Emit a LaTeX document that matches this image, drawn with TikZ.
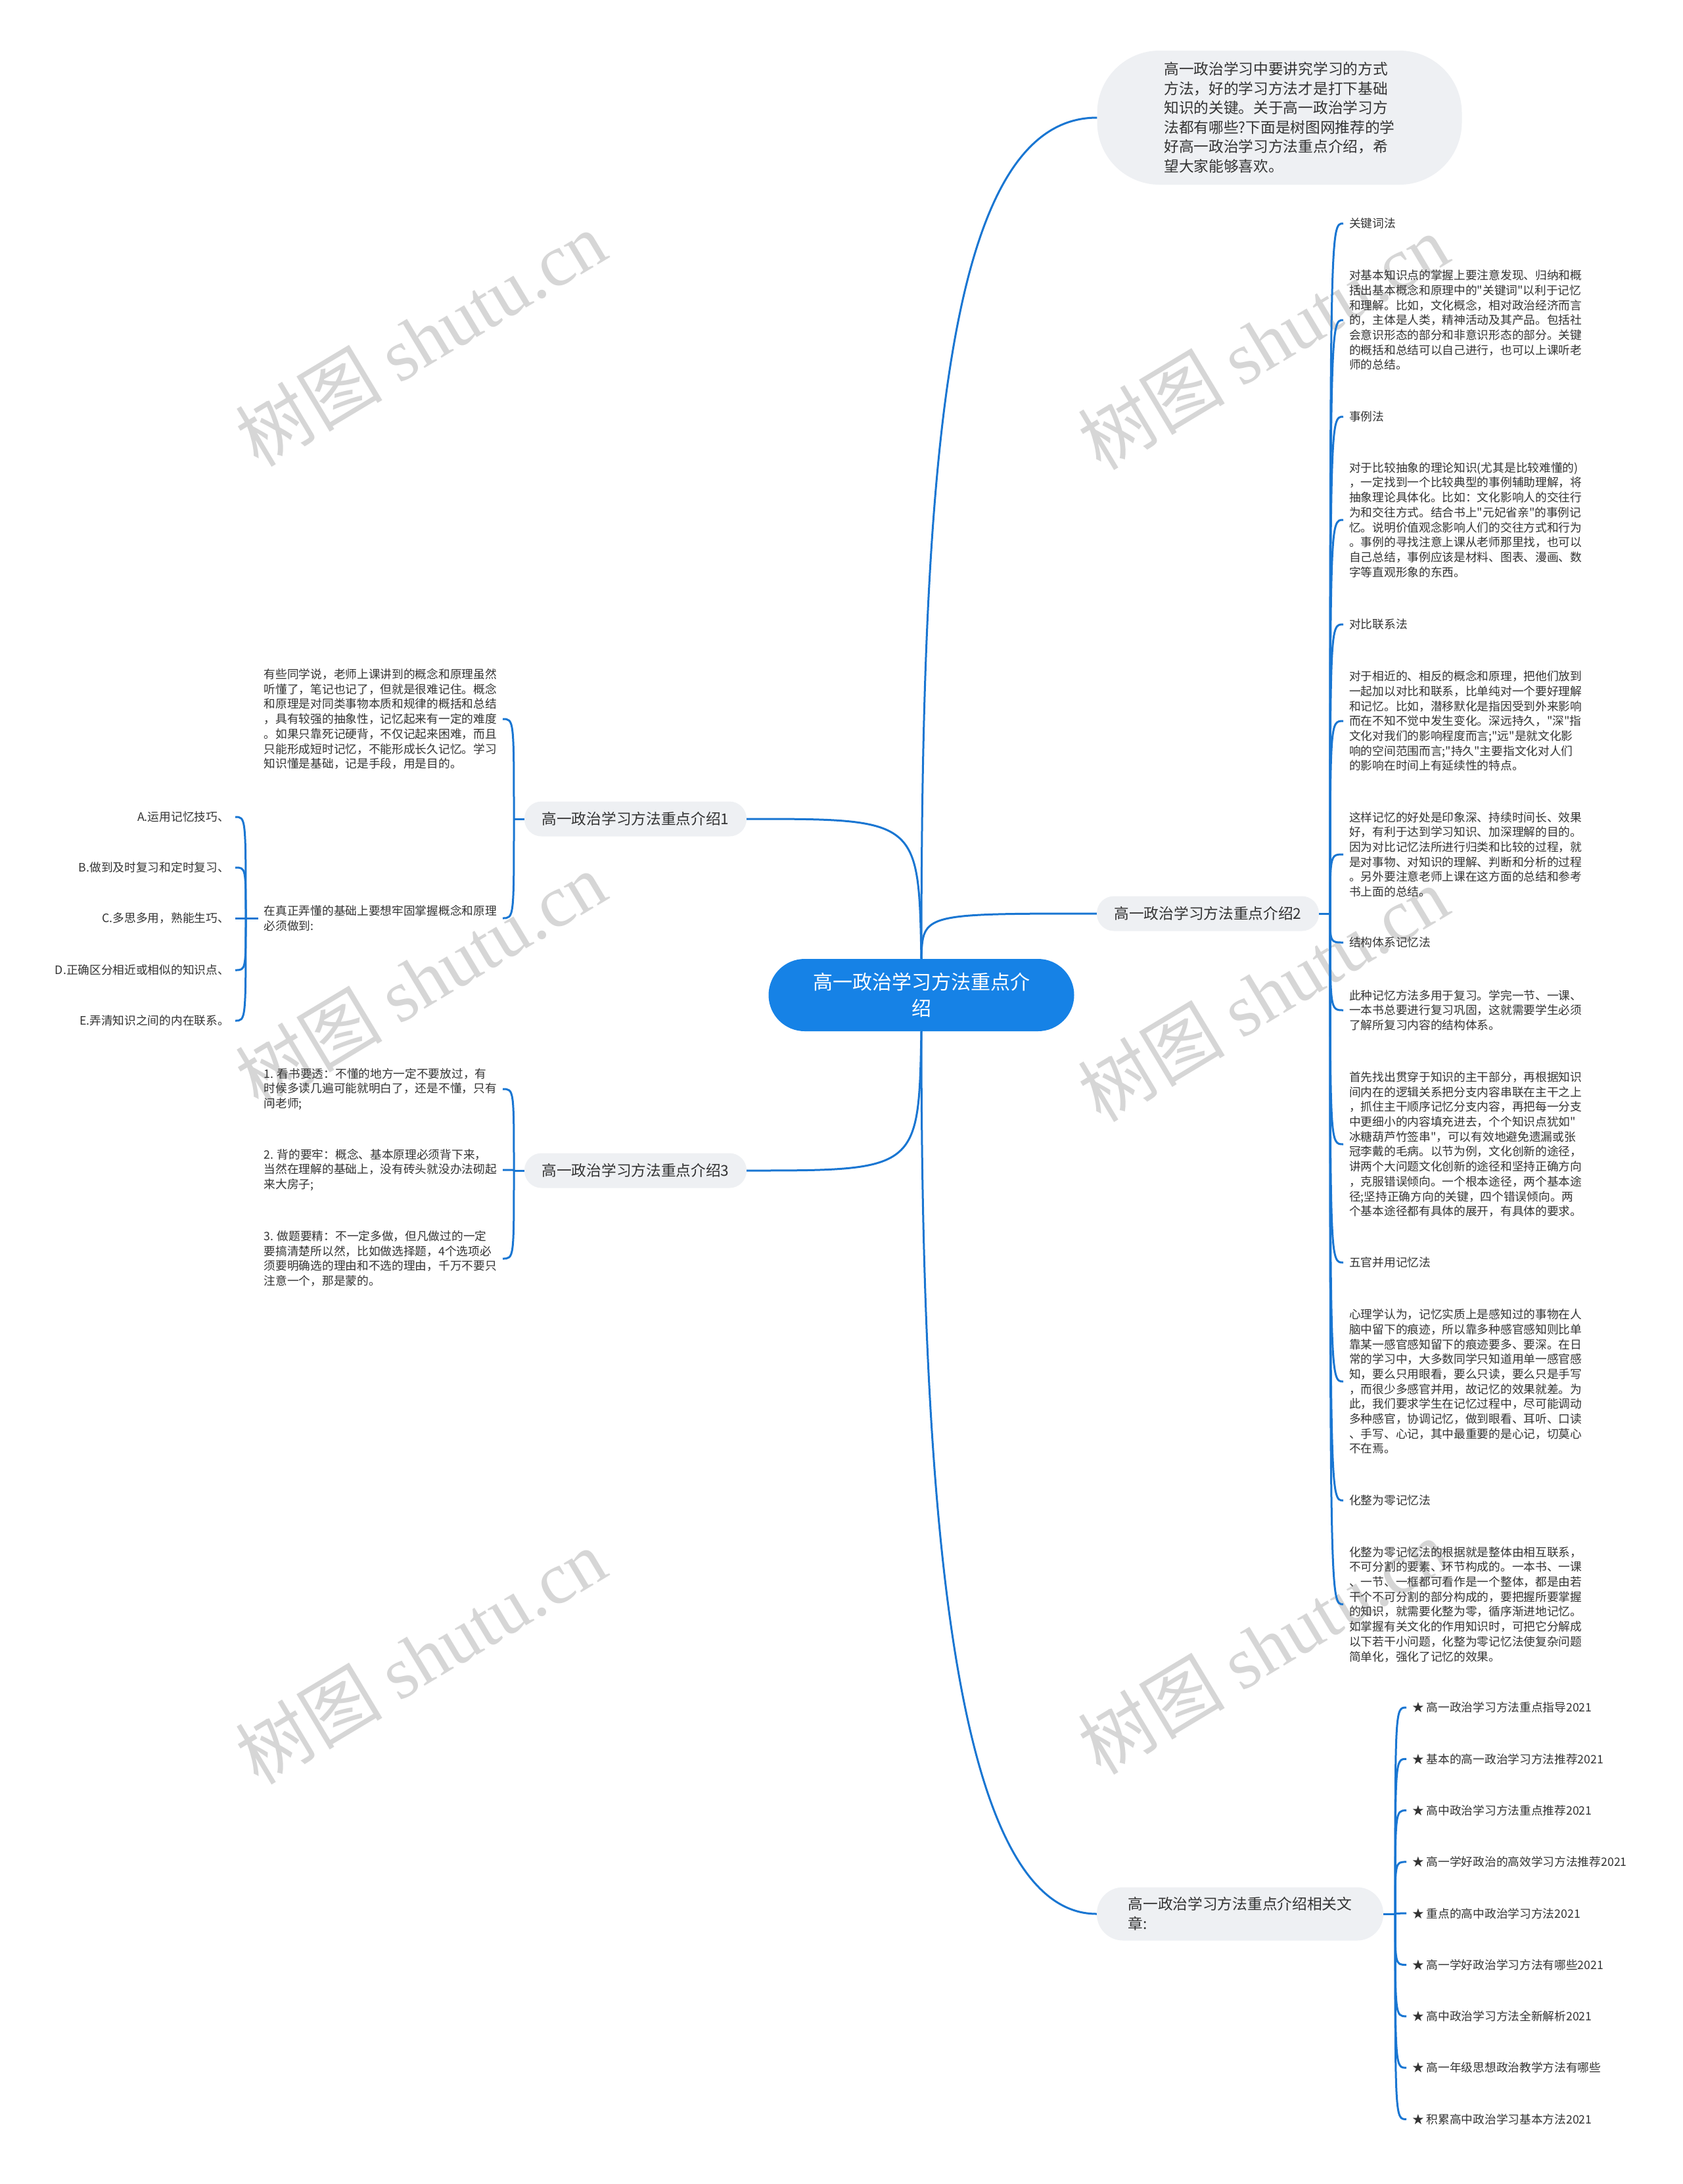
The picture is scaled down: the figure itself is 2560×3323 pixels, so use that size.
\documentclass[tikz,border=0pt]{standalone}
\usepackage{fontspec}
\setmainfont{Noto Sans CJK SC}[Ligatures=TeXOff]
\newfontfamily\wmserif{Liberation Serif}
\usetikzlibrary{calc}
\definecolor{linec}{RGB}{25,118,210}
\definecolor{rootc}{RGB}{22,130,230}
\definecolor{bubc}{RGB}{238,240,243}
\definecolor{txtc}{RGB}{51,51,51}
\definecolor{wmc}{RGB}{214,214,214}
\tikzset{
  conn/.style={draw=linec, line width=3pt},
  small/.style={font=\fontsize{17.7}{22.7}\selectfont, text=txtc, align=left, inner xsep=9pt, inner ysep=2pt},
  smallr/.style={small, align=right},
  branch/.style={fill=bubc, text=txtc, font=\fontsize{22.7}{30}\selectfont, rounded corners=26pt, minimum height=53pt, minimum width=338pt, inner sep=0pt},
  wmark/.style={rotate=31, text=wmc, font=\fontsize{112}{112}\selectfont, inner sep=0pt}
}
\begin{document}
\begin{tikzpicture}[x=1pt,y=1pt]
\useasboundingbox (0,0) rectangle (2560,-3323);
\fill[white] (0,0) rectangle (2560,-3323);

% watermarks
\foreach \wx/\wy [count=\i] in {640/515, 1922/520, 640/1490, 1922/1512, 640/2520, 1922/2505}{
  \node[wmark] (wm\i) at (\wx,-\wy) {树图 {\wmserif shutu.cn}};
}

% root
\node[fill=rootc, text=white, rounded corners=55pt, minimum width=465pt, minimum height=110pt,
      inner sep=0pt, font=\fontsize{30}{40}\selectfont, align=center] (root) at (1402,-1514)
      {高一政治学习方法重点介\\绍};

% intro bubble
\node[fill=bubc, text=txtc, rounded corners=95pt, minimum width=555pt, minimum height=204pt,
      inner sep=0pt, font=\fontsize{22.7}{29.5}\selectfont, align=left] (intro) at (1947,-179)
      {高一政治学习中要讲究学习的方式\\方法，好的学习方法才是打下基础\\知识的关键。关于高一政治学习方\\法都有哪些?下面是树图网推荐的学\\好高一政治学习方法重点介绍，希\\望大家能够喜欢。};

% branches
\node[branch] (b1) at (967,-1246) {高一政治学习方法重点介绍1};
\node[branch] (b2) at (1838,-1390) {高一政治学习方法重点介绍2};
\node[branch] (b3) at (967,-1781) {高一政治学习方法重点介绍3};
\node[branch, minimum width=436pt, minimum height=81pt, rounded corners=40pt, align=left] (b4) at (1887,-2912)
      {高一政治学习方法重点介绍相关文\\章:};

% root connectors
\draw[conn] (root.north) .. controls (1402,-700) and (1440,-179) .. (intro.west);
\draw[conn] (root.north) .. controls (1404,-1390) .. (b2.west);
\draw[conn] (root.north) .. controls (1398,-1246) .. (b1.east);
\draw[conn] (root.south) .. controls (1398,-1781) .. (b3.east);
\draw[conn] (root.south) .. controls (1402,-2300) and (1450,-2912) .. (b4.west);

% ---------- branch 2 children ----------
\node[small, anchor=west] (r1) at (2044,-340) {关键词法};
\node[small, anchor=west] (r2) at (2044,-487) {对基本知识点的掌握上要注意发现、归纳和概\\括出基本概念和原理中的"关键词"以利于记忆\\和理解。比如，文化概念，相对政治经济而言\\的，主体是人类，精神活动及其产品。包括社\\会意识形态的部分和非意识形态的部分。关键\\的概括和总结可以自己进行，也可以上课听老\\师的总结。};
\node[small, anchor=west] (r3) at (2044,-634) {事例法};
\node[small, anchor=west] (r4) at (2044,-791) {对于比较抽象的理论知识(尤其是比较难懂的)\\，一定找到一个比较典型的事例辅助理解，将\\抽象理论具体化。比如：文化影响人的交往行\\为和交往方式。结合书上"元妃省亲"的事例记\\忆。说明价值观念影响人们的交往方式和行为\\。事例的寻找注意上课从老师那里找，也可以\\自己总结，事例应该是材料、图表、漫画、数\\字等直观形象的东西。};
\node[small, anchor=west] (r5) at (2044,-950) {对比联系法};
\node[small, anchor=west] (r6) at (2044,-1097) {对于相近的、相反的概念和原理，把他们放到\\一起加以对比和联系，比单纯对一个要好理解\\和记忆。比如，潜移默化是指因受到外来影响\\而在不知不觉中发生变化。深远持久，"深"指\\文化对我们的影响程度而言;"远"是就文化影\\响的空间范围而言;"持久"主要指文化对人们\\的影响在时间上有延续性的特点。};
\node[small, anchor=west] (r7) at (2044,-1300) {这样记忆的好处是印象深、持续时间长、效果\\好，有利于达到学习知识、加深理解的目的。\\因为对比记忆法所进行归类和比较的过程，就\\是对事物、对知识的理解、判断和分析的过程\\。另外要注意老师上课在这方面的总结和参考\\书上面的总结。};
\node[small, anchor=west] (r8) at (2044,-1434) {结构体系记忆法};
\node[small, anchor=west] (r9) at (2044,-1537) {此种记忆方法多用于复习。学完一节、一课、\\一本书总要进行复习巩固，这就需要学生必须\\了解所复习内容的结构体系。};
\node[small, anchor=west] (r10) at (2044,-1741) {首先找出贯穿于知识的主干部分，再根据知识\\间内在的逻辑关系把分支内容串联在主干之上\\，抓住主干顺序记忆分支内容，再把每一分支\\中更细小的内容填充进去，个个知识点犹如"\\冰糖葫芦竹签串"，可以有效地避免遗漏或张\\冠李戴的毛病。以节为例，文化创新的途径，\\讲两个大问题文化创新的途径和坚持正确方向\\，克服错误倾向。一个根本途径，两个基本途\\径;坚持正确方向的关键，四个错误倾向。两\\个基本途径都有具体的展开，有具体的要求。};
\node[small, anchor=west] (r11) at (2044,-1921) {五官并用记忆法};
\node[small, anchor=west] (r12) at (2044,-2102) {心理学认为，记忆实质上是感知过的事物在人\\脑中留下的痕迹，所以靠多种感官感知则比单\\靠某一感官感知留下的痕迹要多、要深。在日\\常的学习中，大多数同学只知道用单一感官感\\知，要么只用眼看，要么只读，要么只是手写\\，而很少多感官并用，故记忆的效果就差。为\\此，我们要求学生在记忆过程中，尽可能调动\\多种感官，协调记忆，做到眼看、耳听、口读\\、手写、心记，其中最重要的是心记，切莫心\\不在焉。};
\node[small, anchor=west] (r13) at (2044,-2283) {化整为零记忆法};
\node[small, anchor=west] (r14) at (2044,-2441) {化整为零记忆法的根据就是整体由相互联系，\\不可分割的要素、环节构成的。一本书、一课\\、一节、一框都可看作是一个整体，都是由若\\干个不可分割的部分构成的，要把握所要掌握\\的知识，就需要化整为零，循序渐进地记忆。\\如掌握有关文化的作用知识时，可把它分解成\\以下若干小问题，化整为零记忆法使复杂问题\\简单化，强化了记忆的效果。};

\coordinate (h2) at (2024,-1390);
\draw[conn] (b2.east) -- (h2);
\foreach \n in {r1,r2,r3,r4,r5,r6,r7,r8,r9,r10,r11,r12,r13,r14}
  \draw[conn] (h2) .. controls (h2 |- \n.west) .. (\n.west);

% ---------- branch 1 children ----------
\node[small, anchor=east] (l1) at (765,-1094) {有些同学说，老师上课讲到的概念和原理虽然\\听懂了，笔记也记了，但就是很难记住。概念\\和原理是对同类事物本质和规律的概括和总结\\，具有较强的抽象性，记忆起来有一定的难度\\。如果只靠死记硬背，不仅记起来困难，而且\\只能形成短时记忆，不能形成长久记忆。学习\\知识懂是基础，记是手段，用是目的。};
\node[small, anchor=east] (cond) at (765,-1397) {在真正弄懂的基础上要想牢固掌握概念和原理\\必须做到:};
\coordinate (h1) at (782,-1246);
\draw[conn] (b1.west) -- (h1);
\foreach \n in {l1,cond}
  \draw[conn] (h1) .. controls (h1 |- \n.east) .. (\n.east);

\node[smallr, anchor=east] (ka) at (358,-1243) {A.运用记忆技巧、};
\node[smallr, anchor=east] (kb) at (358,-1320) {B.做到及时复习和定时复习、};
\node[smallr, anchor=east] (kc) at (358,-1397) {C.多思多用，熟能生巧、};
\node[smallr, anchor=east] (kd) at (358,-1476) {D.正确区分相近或相似的知识点、};
\node[smallr, anchor=east] (ke) at (358,-1553) {E.弄清知识之间的内在联系。};
\coordinate (hc) at (374,-1397);
\draw[conn] (cond.west) -- (hc);
\foreach \n in {ka,kb,kc,kd,ke}
  \draw[conn] (hc) .. controls (hc |- \n.east) .. (\n.east);

% ---------- branch 3 children ----------
\node[small, anchor=east] (t1) at (765,-1657) {1. 看书要透：不懂的地方一定不要放过，有\\时候多读几遍可能就明白了，还是不懂，只有\\问老师;};
\node[small, anchor=east] (t2) at (765,-1780) {2. 背的要牢：概念、基本原理必须背下来，\\当然在理解的基础上，没有砖头就没办法砌起\\来大房子;};
\node[small, anchor=east] (t3) at (765,-1915) {3. 做题要精：不一定多做，但凡做过的一定\\要搞清楚所以然，比如做选择题，4个选项必\\须要明确选的理由和不选的理由，千万不要只\\注意一个，那是蒙的。};
\coordinate (h3) at (782,-1781);
\draw[conn] (b3.west) -- (h3);
\foreach \n in {t1,t2,t3}
  \draw[conn] (h3) .. controls (h3 |- \n.east) .. (\n.east);

% ---------- branch 4 children ----------
\foreach \txt [count=\i from 0] in {高一政治学习方法重点指导2021, 基本的高一政治学习方法推荐2021, 高中政治学习方法重点推荐2021, 高一学好政治的高效学习方法推荐2021, 重点的高中政治学习方法2021, 高一学好政治学习方法有哪些2021, 高中政治学习方法全新解析2021, 高一年级思想政治教学方法有哪些, 积累高中政治学习基本方法2021}{
  \node[small, anchor=west] (s\i) at (2140,{-2598-78.3*\i}) {★ \txt};
}
\coordinate (h4) at (2123,-2912);
\draw[conn] (b4.east) -- (h4);
\foreach \n in {s0,s1,s2,s3,s4,s5,s6,s7,s8}
  \draw[conn] (h4) .. controls (h4 |- \n.west) .. (\n.west);
\end{tikzpicture}
\end{document}
